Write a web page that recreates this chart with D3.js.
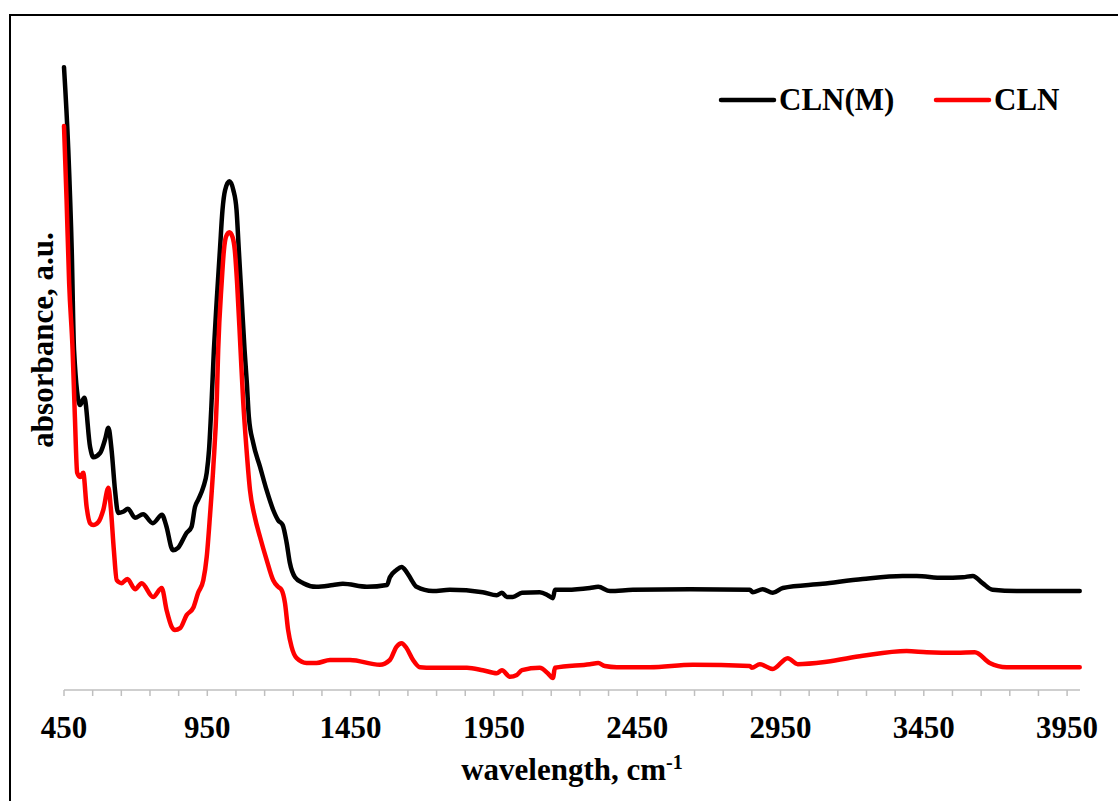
<!DOCTYPE html>
<html>
<head>
<meta charset="utf-8">
<script src="https://cdn.jsdelivr.net/npm/d3@7"></script>
<style>
  html, body { margin: 0; padding: 0; background: #fff; }
  svg { display: block; }
  text { font-family: "Liberation Serif", "Times New Roman", serif; font-weight: bold; fill: #000; }
</style>
</head>
<body>
<svg id="chart" width="1118" height="801"></svg>
<script>
// ---- data (wavenumber, cm-1  /  absorbance, a.u.) ----
const blackWn = [450,465,477,485,506,521,541,552,576,593,605,616,628,639,656,673,698,726,760,792,806,830,848,878,895,907,918,936,948,956,964,973,983,994,1003,1012,1027,1041,1052,1060,1070,1080,1088,1095,1110,1134,1157,1180,1197,1213,1227,1238,1256,1285,1331,1389,1423,1507,1577,1587,1610,1628,1645,1663,1680,1737,1796,1911,1960,1978,1995,2016,2048,2110,2138,2156,2163,2205,2285,2314,2355,2435,2634,2843,2853,2888,2923,2958,3097,3237,3376,3425,3516,3586,3621,3655,3690,3774,3994];
const blackAbs = [1.038,0.900,0.733,0.567,0.475,0.487,0.405,0.388,0.395,0.417,0.437,0.400,0.333,0.295,0.297,0.302,0.287,0.293,0.278,0.292,0.275,0.233,0.237,0.262,0.272,0.305,0.317,0.338,0.362,0.400,0.470,0.567,0.650,0.733,0.800,0.833,0.848,0.833,0.800,0.733,0.650,0.567,0.512,0.455,0.412,0.372,0.333,0.300,0.283,0.275,0.245,0.212,0.188,0.178,0.172,0.175,0.177,0.172,0.175,0.188,0.200,0.205,0.197,0.183,0.172,0.165,0.167,0.163,0.158,0.162,0.155,0.155,0.162,0.163,0.158,0.153,0.167,0.167,0.170,0.172,0.165,0.167,0.168,0.167,0.163,0.168,0.162,0.170,0.177,0.185,0.190,0.190,0.187,0.188,0.190,0.178,0.167,0.165,0.165];

const redWn = [450,459,468,480,488,496,506,517,529,541,552,570,587,605,613,624,634,651,671,698,721,761,791,808,826,837,855,878,901,918,936,948,959,971,983,988,1000,1008,1015,1027,1038,1046,1054,1066,1075,1087,1099,1116,1134,1157,1180,1197,1209,1221,1232,1244,1262,1296,1331,1378,1413,1448,1552,1587,1610,1628,1645,1668,1692,1737,1856,1911,1960,1978,2006,2030,2048,2110,2138,2156,2163,2285,2314,2337,2379,2494,2644,2843,2850,2878,2923,2975,3010,3111,3237,3390,3460,3565,3628,3680,3739,3994];
const redAbs = [0.940,0.817,0.678,0.567,0.455,0.362,0.355,0.362,0.305,0.278,0.275,0.280,0.300,0.337,0.305,0.233,0.183,0.178,0.185,0.168,0.178,0.155,0.170,0.133,0.105,0.100,0.103,0.125,0.137,0.162,0.183,0.222,0.288,0.372,0.483,0.567,0.678,0.733,0.755,0.763,0.755,0.733,0.678,0.567,0.483,0.400,0.333,0.288,0.255,0.217,0.183,0.172,0.167,0.145,0.100,0.072,0.053,0.045,0.045,0.050,0.050,0.050,0.042,0.050,0.072,0.078,0.070,0.050,0.038,0.037,0.037,0.033,0.028,0.033,0.022,0.025,0.033,0.037,0.028,0.020,0.037,0.043,0.045,0.040,0.038,0.038,0.042,0.040,0.037,0.043,0.035,0.053,0.043,0.047,0.057,0.065,0.063,0.062,0.063,0.045,0.038,0.038];

const seriesNames = ["CLN(M)", "CLN"];
const seriesColors = ["#000000", "#ff0000"];
const tickValues = d3.range(450, 3951, 100);
const labelValues = [450, 950, 1450, 1950, 2450, 2950, 3450, 3950];
const xTitle = "wavelength, cm";
const xTitleSup = "-1";
const yTitle = "absorbance, a.u.";

// ---- layout ----
const svg = d3.select("#chart");
const x = d3.scaleLinear().domain([450, 3995]).range([64, 1080]);
const y = d3.scaleLinear().domain([0, 1]).range([690, 90]);

// outer border (chart area frame, cut at right/bottom)
svg.append("rect")
  .attr("x", 10).attr("y", 15)
  .attr("width", 1130).attr("height", 820)
  .attr("fill", "none").attr("stroke", "#000").attr("stroke-width", 2);

// x axis
const axisG = svg.append("g").attr("transform", "translate(0,690)");
axisG.append("line")
  .attr("x1", x(450)).attr("x2", x(3995))
  .attr("y1", 0).attr("y2", 0)
  .attr("stroke", "#bfbfbf").attr("stroke-width", 1.5);
axisG.selectAll("line.tick").data(tickValues).join("line")
  .attr("class", "tick")
  .attr("x1", d => x(d)).attr("x2", d => x(d))
  .attr("y1", 0).attr("y2", 6)
  .attr("stroke", "#bfbfbf").attr("stroke-width", 1.5);
axisG.selectAll("text.lbl").data(labelValues).join("text")
  .attr("class", "lbl")
  .attr("x", d => x(d)).attr("y", 48)
  .attr("text-anchor", "middle")
  .style("font-size", "31px")
  .text(d => d);

// axis titles
const xt = svg.append("text")
  .attr("x", 572).attr("y", 780)
  .attr("text-anchor", "middle")
  .style("font-size", "31px");
xt.append("tspan").text(xTitle);
xt.append("tspan").attr("dy", -11).style("font-size", "20px").text(xTitleSup);

svg.append("text")
  .attr("transform", "translate(53,340) rotate(-90)")
  .attr("text-anchor", "middle")
  .style("font-size", "31px")
  .text(yTitle);

// lines
const line = d3.line()
  .x(d => x(d[0])).y(d => y(d[1]))
  .curve(d3.curveMonotoneX);

const series = [
  d3.zip(blackWn, blackAbs),
  d3.zip(redWn, redAbs)
];
series.forEach((s, i) => {
  svg.append("path")
    .datum(s)
    .attr("d", line)
    .attr("fill", "none")
    .attr("stroke", seriesColors[i])
    .attr("stroke-width", 4.5)
    .attr("stroke-linejoin", "round")
    .attr("stroke-linecap", "round");
});

// legend
const legendX = [721, 936];
const legend = svg.append("g");
seriesNames.forEach((name, i) => {
  legend.append("line")
    .attr("x1", legendX[i]).attr("x2", legendX[i] + 53)
    .attr("y1", 100).attr("y2", 100)
    .attr("stroke", seriesColors[i]).attr("stroke-width", 4.5)
    .attr("stroke-linecap", "round");
  legend.append("text")
    .attr("x", legendX[i] + 58).attr("y", 110)
    .style("font-size", "31px")
    .text(name);
});
</script>
</body>
</html>
